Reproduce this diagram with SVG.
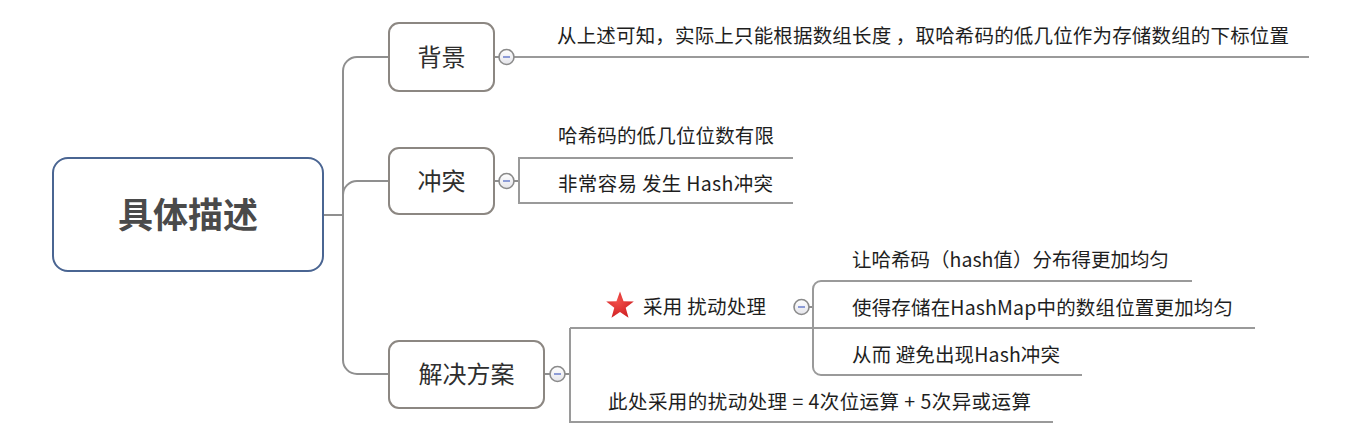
<svg xmlns="http://www.w3.org/2000/svg" width="1361" height="438" viewBox="0 0 1361 438">
<style>
  .box { fill: #ffffff; stroke: #8c8782; stroke-width: 2; }
  .root { fill: #ffffff; stroke: #4a6592; stroke-width: 2; }
  .line { fill: none; stroke: #8f8f8f; stroke-width: 2; }
  .ul { fill: none; stroke: #9a9a9a; stroke-width: 2; }
  .t { font-family: "Noto Sans CJK SC", "Noto Sans", sans-serif; font-size: 19.5px; fill: #1e1e1e; }
  .bt { font-family: "Noto Sans CJK SC", "Noto Sans", sans-serif; font-size: 24px; fill: #2e2e2e; text-anchor: middle; }
  .rt { font-family: "Noto Sans CJK SC", "Noto Sans", sans-serif; font-size: 35px; font-weight: bold; fill: #4a4a4a; text-anchor: middle; }
  .cc { fill: url(#cg); stroke: #8a8a8a; stroke-width: 1.6; }
  .cm { stroke: #8c9bd6; stroke-width: 2; }
</style>
<defs>
  <linearGradient id="cg" x1="0" y1="0" x2="0" y2="1">
    <stop offset="0" stop-color="#ffffff"/>
    <stop offset="1" stop-color="#e4e4ea"/>
  </linearGradient>
  <radialGradient id="sg" cx="0.4" cy="0.35" r="0.7">
    <stop offset="0" stop-color="#f2504a"/>
    <stop offset="1" stop-color="#cf1f22"/>
  </radialGradient>
  <g id="collapse">
    <circle class="cc" cx="0" cy="0" r="7.5"/>
    <line class="cm" x1="-3.5" y1="0" x2="3.5" y2="0"/>
  </g>
</defs>

<g id="connectors">
  <path class="line" d="M323 215 H343"/>
  <path class="line" d="M389 57 H357 A14 14 0 0 0 343 71 V360 A14 14 0 0 0 357 374 H389"/>
  <path class="line" d="M343 195 A14 14 0 0 1 357 181 H389"/>
  <path class="line" d="M494 57 H499"/>
  <path class="line" d="M494 181 H499"/>
  <path class="line" d="M544 374 H550"/>
  <path class="ul" d="M514 57 H1309"/>
  <path class="line" d="M514 181 H519"/>
  <path class="ul" d="M793 158 H519 V203 H793"/>
  <path class="line" d="M565 374 H570"/>
  <path class="ul" d="M570 328 V422 H1053"/>
  <path class="ul" d="M570 328 H1255"/>
  <path class="line" d="M809 307 H813"/>
  <path class="ul" d="M1192 281 H821 A8 8 0 0 0 813 289 V367 A8 8 0 0 0 821 375 H1082"/>
</g>

<g id="root">
  <rect class="root" x="53" y="158" width="270" height="113" rx="15"/>
  <text class="rt" x="188" y="228">具体描述</text>
</g>

<g id="n-beijing">
  <rect class="box" x="389" y="23" width="105" height="68" rx="10"/>
  <text class="bt" x="441.5" y="66">背景</text>
  <use href="#collapse" x="506.5" y="57"/>
</g>
<g id="n-beijing-1">
  <text class="t" x="557" y="43" textLength="732" lengthAdjust="spacing">从上述可知，实际上只能根据数组长度 ，取哈希码的低几位作为存储数组的下标位置</text>
</g>

<g id="n-chongtu">
  <rect class="box" x="389" y="148" width="105" height="66" rx="10"/>
  <text class="bt" x="441.5" y="190">冲突</text>
  <use href="#collapse" x="506.5" y="181"/>
</g>
<g id="n-chongtu-1">
  <text class="t" x="558" y="143" textLength="216" lengthAdjust="spacing">哈希码的低几位位数有限</text>
</g>
<g id="n-chongtu-2">
  <text class="t" x="558" y="191" textLength="215" lengthAdjust="spacing">非常容易 发生 Hash冲突</text>
</g>

<g id="n-jiejue">
  <rect class="box" x="389" y="341" width="155" height="67" rx="10"/>
  <text class="bt" x="466.5" y="383">解决方案</text>
  <use href="#collapse" x="557.5" y="374"/>
</g>
<g id="n-raodong">
  <polygon fill="url(#sg)" points="620,291.5 623.53,301.15 633.79,301.52 625.71,307.85 628.52,317.73 620,312 611.48,317.73 614.29,307.85 606.21,301.52 616.47,301.15"/>
  <text class="t" x="643" y="314" textLength="123" lengthAdjust="spacing">采用 扰动处理</text>
  <use href="#collapse" x="801.5" y="307"/>
</g>
<g id="n-raodong-1">
  <text class="t" x="852" y="267" textLength="317" lengthAdjust="spacing">让哈希码（hash值）分布得更加均匀</text>
</g>
<g id="n-raodong-2">
  <text class="t" x="852" y="315" textLength="381" lengthAdjust="spacing">使得存储在HashMap中的数组位置更加均匀</text>
</g>
<g id="n-raodong-3">
  <text class="t" x="852" y="362" textLength="208" lengthAdjust="spacing">从而 避免出现Hash冲突</text>
</g>
<g id="n-cichu">
  <text class="t" x="608" y="409" textLength="423" lengthAdjust="spacing">此处采用的扰动处理 = 4次位运算 + 5次异或运算</text>
</g>
</svg>
